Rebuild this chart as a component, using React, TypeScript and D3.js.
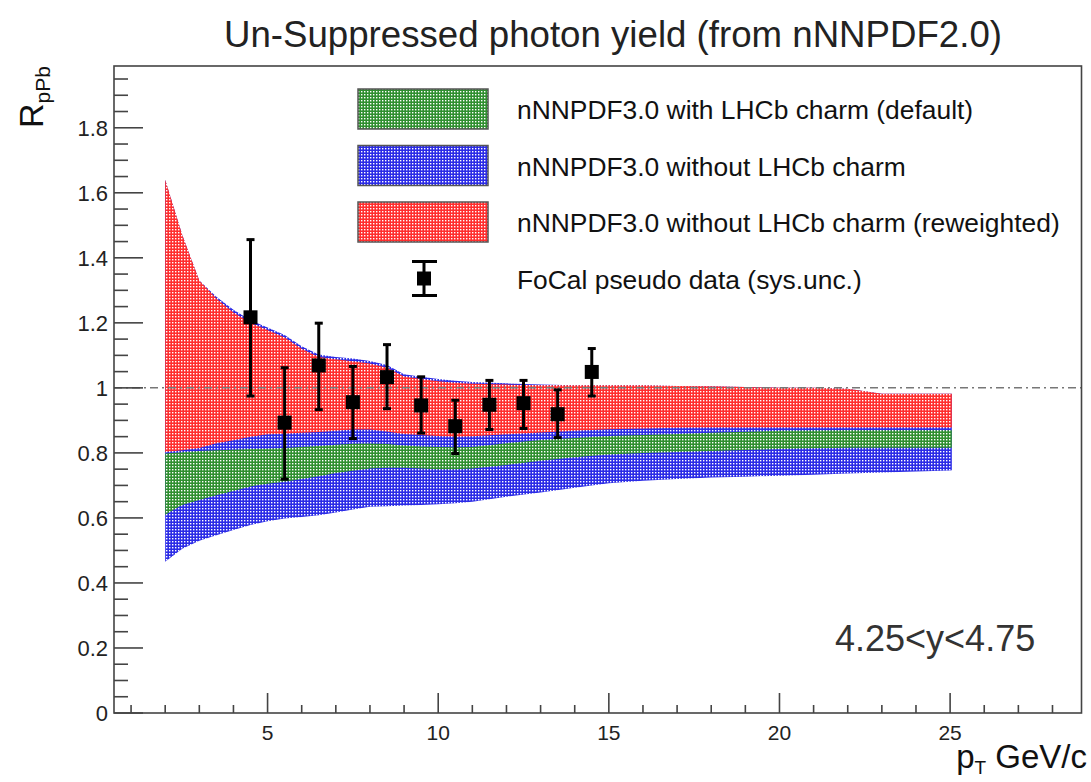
import React from "react";
import * as d3 from "d3";

// ---------------- data ----------------
const ptGrid = [2, 2.5, 3, 3.5, 4, 4.5, 5, 5.5, 6, 6.5, 7, 7.5, 8, 8.5, 9, 9.5, 10, 10.5, 11, 12, 13, 14, 15, 16, 17, 18, 19, 20, 21, 22, 23, 24, 25, 25.05];

const blueUpper = [1.64, 1.47, 1.33, 1.28, 1.24, 1.208, 1.186, 1.163, 1.128, 1.103, 1.095, 1.09, 1.083, 1.07, 1.042, 1.034, 1.027, 1.022, 1.018, 1.014, 1.01, 1.008, 1.008, 1.008, 1.006, 1.005, 1.003, 1.0, 1.0, 0.997, 0.982, 0.982, 0.982, 0.982];
const blueLower = [0.465, 0.505, 0.53, 0.547, 0.563, 0.578, 0.59, 0.598, 0.603, 0.608, 0.617, 0.626, 0.634, 0.636, 0.638, 0.64, 0.642, 0.645, 0.65, 0.665, 0.678, 0.693, 0.707, 0.714, 0.72, 0.724, 0.727, 0.73, 0.733, 0.737, 0.74, 0.743, 0.746, 0.747];

const greenUpper = [0.798, 0.802, 0.806, 0.808, 0.81, 0.812, 0.813, 0.815, 0.818, 0.821, 0.825, 0.828, 0.829, 0.827, 0.823, 0.82, 0.818, 0.817, 0.818, 0.83, 0.84, 0.846, 0.852, 0.855, 0.858, 0.862, 0.865, 0.868, 0.869, 0.87, 0.87, 0.87, 0.87, 0.87];
const greenLower = [0.61, 0.64, 0.655, 0.67, 0.683, 0.697, 0.705, 0.711, 0.72, 0.728, 0.738, 0.745, 0.752, 0.754, 0.754, 0.752, 0.75, 0.75, 0.752, 0.763, 0.776, 0.787, 0.795, 0.8, 0.803, 0.806, 0.809, 0.812, 0.814, 0.816, 0.816, 0.816, 0.816, 0.816];

const redUpper = [1.64, 1.47, 1.33, 1.275, 1.232, 1.2, 1.178, 1.155, 1.12, 1.095, 1.088, 1.082, 1.075, 1.062, 1.035, 1.027, 1.02, 1.016, 1.013, 1.01, 1.008, 1.008, 1.008, 1.008, 1.006, 1.005, 1.003, 1.0, 1.0, 0.997, 0.982, 0.982, 0.982, 0.982];
const redLower = [0.803, 0.808, 0.815, 0.83, 0.839, 0.85, 0.857, 0.859, 0.862, 0.864, 0.868, 0.872, 0.872, 0.866, 0.858, 0.855, 0.852, 0.85, 0.851, 0.857, 0.863, 0.868, 0.873, 0.875, 0.877, 0.878, 0.878, 0.878, 0.878, 0.878, 0.878, 0.878, 0.878, 0.878];

const dataPt = [4.5, 5.5, 6.5, 7.5, 8.5, 9.5, 10.5, 11.5, 12.5, 13.5, 14.5];
const dataVal = [1.217, 0.893, 1.069, 0.956, 1.033, 0.946, 0.882, 0.948, 0.953, 0.919, 1.049];
const dataHigh = [1.456, 1.062, 1.199, 1.066, 1.133, 1.034, 0.962, 1.023, 1.023, 0.994, 1.121];
const dataLow = [0.975, 0.719, 0.933, 0.844, 0.936, 0.861, 0.798, 0.872, 0.875, 0.847, 0.975];

const xMajorTicks = [5, 10, 15, 20, 25];
const yMajorTicks = [0, 0.2, 0.4, 0.6, 0.8, 1, 1.2, 1.4, 1.6, 1.8];
const yTickLabels = ["0", "0.2", "0.4", "0.6", "0.8", "1", "1.2", "1.4", "1.6", "1.8"];

const legendLabels = [
  "nNNPDF3.0 with LHCb charm (default)",
  "nNNPDF3.0 without LHCb charm",
  "nNNPDF3.0 without LHCb charm (reweighted)",
  "FoCal pseudo data (sys.unc.)",
];

const titleText = "Un-Suppressed photon yield (from nNNPDF2.0)";
const rapidityText = "4.25<y<4.75";

// ---------------- layout ----------------
const W = 1091;
const H = 782;
const FL = 114, FR = 1081.5, FT = 66, FB = 713;
const FONT = "'Liberation Sans', Arial, Helvetica, sans-serif";

const COL = {
  green: "#2f8f2f",
  blue: "#2b2be6",
  red: "#ff2e2e",
};

export default function App() {
  const x = d3.scaleLinear().domain([0.5, 28.85]).range([FL, FR]);
  const y = d3.scaleLinear().domain([0, 1.99]).range([FB, FT]);

  const band = (up: number[], lo: number[]) =>
    d3
      .area<number>()
      .x((_, i) => x(ptGrid[i]))
      .y0((_, i) => y(lo[i]))
      .y1((d) => y(d))
      .curve(d3.curveLinear)(up) as string;

  const xMinor = d3.range(1, 29, 1).filter((v) => v % 5 !== 0);
  const yMinor = d3.range(0, 1.99, 0.05).filter((v) => Math.abs(v * 5 - Math.round(v * 5)) > 1e-6);

  const patterns = [
    ["pGreen", COL.green],
    ["pBlue", COL.blue],
    ["pRed", COL.red],
  ];

  const legendRows = [0, 1, 2, 3].map((i) => 109 + i * 56.5);
  const legendFill = ["url(#pGreen)", "url(#pBlue)", "url(#pRed)"];

  return (
    <svg
      width={W}
      height={H}
      style={{ position: "absolute", left: 0, top: 0, background: "#fff" }}
      fontFamily={FONT}
    >
      <defs>
        {patterns.map(([id, c]) => (
          <pattern key={id} id={id} width={3} height={3} patternUnits="userSpaceOnUse">
            <rect width={3} height={3} fill={c} />
            <rect x={1} y={1} width={1.4} height={1.4} fill="#fff" />
          </pattern>
        ))}
      </defs>
      <rect width={W} height={H} fill="#fff" />

      {/* title */}
      <text x={613} y={47} fontSize={36} textAnchor="middle" fill="#222" textLength={778} lengthAdjust="spacingAndGlyphs">
        {titleText}
      </text>

      {/* bands */}
      <path d={band(blueUpper, blueLower)} fill="url(#pBlue)" />
      <path d={band(greenUpper, greenLower)} fill="url(#pGreen)" />
      <path d={band(redUpper, redLower)} fill="url(#pRed)" />

      {/* unity line */}
      <line x1={FL} x2={FR} y1={y(1)} y2={y(1)} stroke="#777" strokeWidth={1.5} strokeDasharray="8 4 2 4" />

      {/* data points */}
      {dataPt.map((p, i) => {
        const cx = x(p);
        return (
          <g key={p}>
            <line x1={cx} x2={cx} y1={y(dataHigh[i])} y2={y(dataLow[i])} stroke="#000" strokeWidth={3} />
            <line x1={cx - 4} x2={cx + 4} y1={y(dataHigh[i])} y2={y(dataHigh[i])} stroke="#000" strokeWidth={3} />
            <line x1={cx - 4} x2={cx + 4} y1={y(dataLow[i])} y2={y(dataLow[i])} stroke="#000" strokeWidth={3} />
            <rect x={cx - 7} y={y(dataVal[i]) - 7} width={14} height={14} fill="#000" />
          </g>
        );
      })}

      {/* frame */}
      <rect x={FL} y={FT} width={FR - FL} height={FB - FT} fill="none" stroke="#444" strokeWidth={1.6} />

      {/* y ticks */}
      {yMajorTicks.map((v, i) => (
        <g key={"ym" + v}>
          <line x1={FL} x2={FL + 29} y1={y(v)} y2={y(v)} stroke="#444" strokeWidth={1.6} />
          <text x={108} y={y(v) + 8} fontSize={22} textAnchor="end" fill="#222">
            {yTickLabels[i]}
          </text>
        </g>
      ))}
      {yMinor.map((v) => (
        <line key={"yn" + v} x1={FL} x2={FL + 14} y1={y(v)} y2={y(v)} stroke="#444" strokeWidth={1.6} />
      ))}

      {/* x ticks */}
      {xMajorTicks.map((v) => (
        <g key={"xm" + v}>
          <line x1={x(v)} x2={x(v)} y1={FB} y2={FB - 20} stroke="#444" strokeWidth={1.6} />
          <text x={x(v)} y={740} fontSize={21} textAnchor="middle" fill="#222">
            {v}
          </text>
        </g>
      ))}
      {xMinor.map((v) => (
        <line key={"xn" + v} x1={x(v)} x2={x(v)} y1={FB} y2={FB - 8} stroke="#444" strokeWidth={1.6} />
      ))}

      {/* axis titles */}
      <text transform="translate(43,128) rotate(-90)" fontSize={34} fill="#111">
        R<tspan dy={7} fontSize={21}>pPb</tspan>
      </text>
      <text x={1087} y={768} fontSize={33} textAnchor="end" fill="#111">
        p<tspan dy={6} fontSize={19}>T</tspan>
        <tspan dy={-6}> GeV/c</tspan>
      </text>

      {/* rapidity label */}
      <text x={835} y={651} fontSize={36} fill="#333">
        {rapidityText}
      </text>

      {/* legend */}
      {legendFill.map((f, i) => (
        <rect key={"lb" + i} x={358} y={legendRows[i] - 20} width={130} height={40} fill={f} stroke="#555" strokeWidth={1.5} />
      ))}
      <g>
        <line x1={424} x2={424} y1={legendRows[3] - 17} y2={legendRows[3] + 17} stroke="#000" strokeWidth={3} />
        <line x1={412} x2={437} y1={legendRows[3] - 17} y2={legendRows[3] - 17} stroke="#000" strokeWidth={3} />
        <line x1={412} x2={437} y1={legendRows[3] + 17} y2={legendRows[3] + 17} stroke="#000" strokeWidth={3} />
        <rect x={417} y={legendRows[3] - 7} width={14} height={14} fill="#000" />
      </g>
      {legendLabels.map((t, i) => (
        <text key={"lt" + i} x={517} y={legendRows[i] + 10} fontSize={26.4} fill="#111">
          {t}
        </text>
      ))}
    </svg>
  );
}
